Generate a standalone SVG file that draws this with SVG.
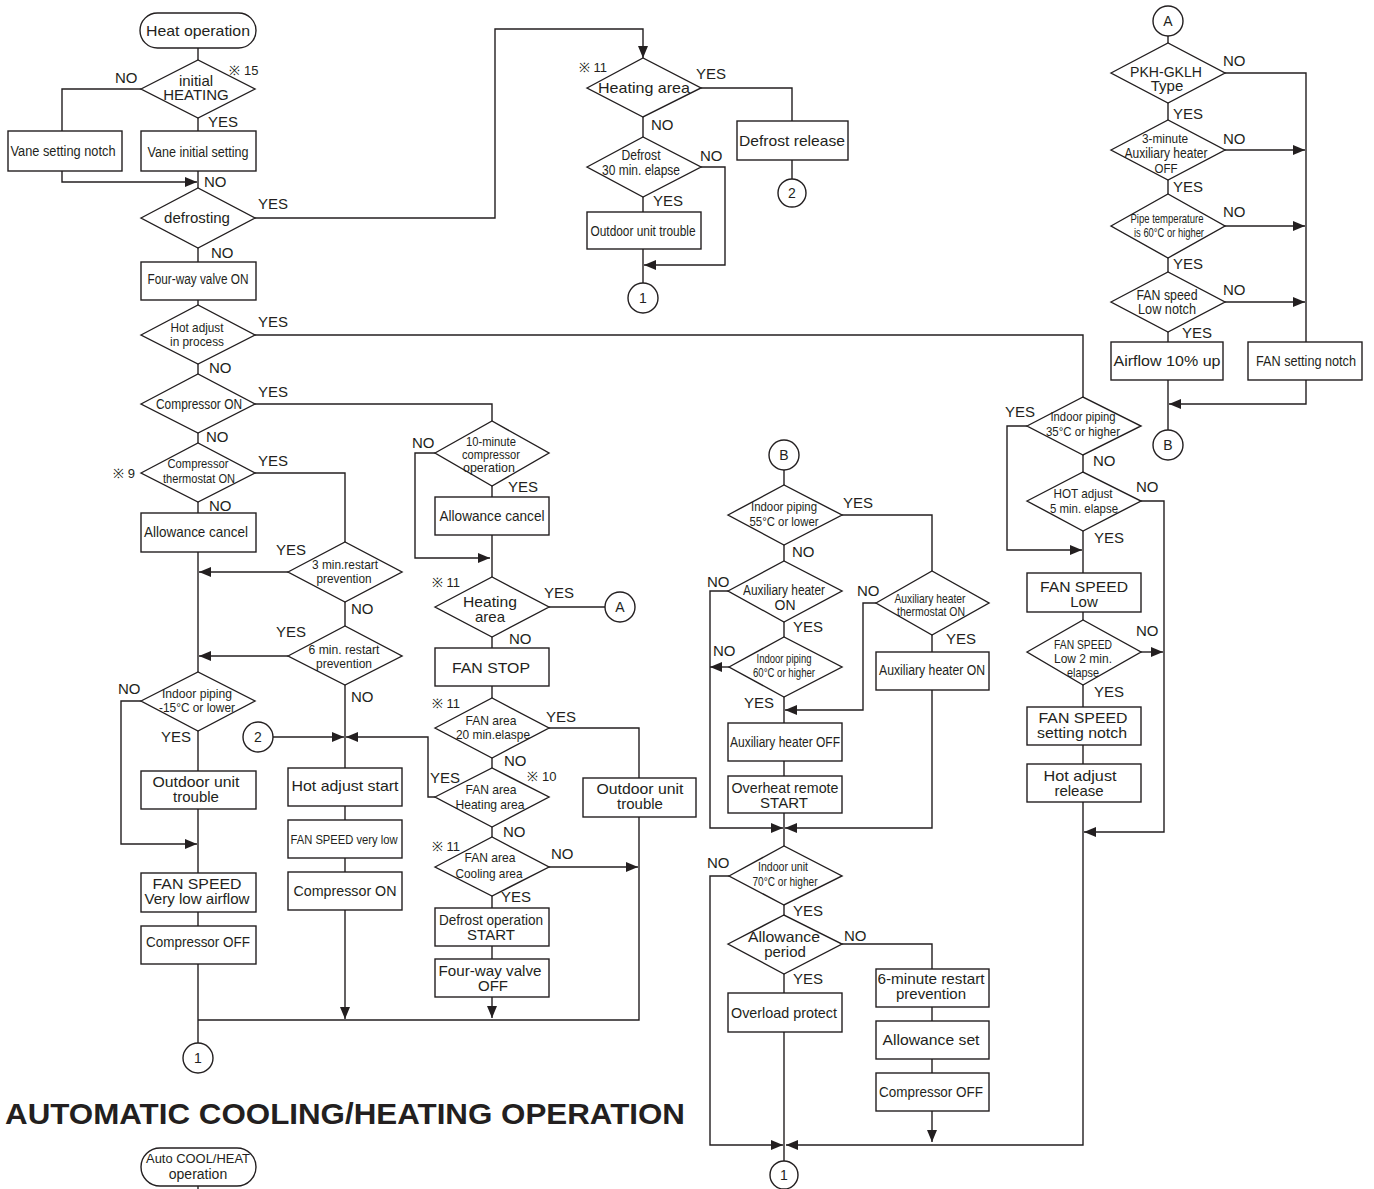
<svg xmlns="http://www.w3.org/2000/svg" width="1374" height="1189" viewBox="0 0 1374 1189">
<style>
.s{fill:#fff;stroke:#231f20;stroke-width:1.4}
.l{fill:none;stroke:#231f20;stroke-width:1.4}
text{font-family:"Liberation Sans",Arial,sans-serif;fill:#231f20;text-anchor:middle}
.t15{font-size:15px}
.t14{font-size:14px}
.t13{font-size:13px}
.lb{font-size:15px;text-anchor:start}
.ttl{font-size:30px;font-weight:bold;text-anchor:start}
</style>
<defs>
<marker id="ah" viewBox="0 0 12 10" refX="12" refY="5" markerWidth="12" markerHeight="10" orient="auto" markerUnits="userSpaceOnUse"><path d="M0,0 L12,5 L0,10 z" fill="#231f20"/></marker>
</defs>
<rect width="1374" height="1189" fill="#fff"/>

<g id="connectors">
<path class="l" d="M198,48V60"/>
<path class="l" d="M198,118V131"/>
<path class="l" d="M141,89H62V131"/>
<path class="l" d="M62,171V182H197" marker-end="url(#ah)"/>
<path class="l" d="M198,171V188"/>
<path class="l" d="M198,248V262"/>
<path class="l" d="M198,300V305"/>
<path class="l" d="M255,218H495V29H643V58" marker-end="url(#ah)"/>
<path class="l" d="M643,117V137"/>
<path class="l" d="M643,197V212"/>
<path class="l" d="M643,249V283"/>
<path class="l" d="M701,167H725V265H644" marker-end="url(#ah)"/>
<path class="l" d="M701,88H792V121"/>
<path class="l" d="M792,160V179"/>
<path class="l" d="M198,364V374"/>
<path class="l" d="M198,433V443"/>
<path class="l" d="M198,502V513"/>
<path class="l" d="M255,335H1083V397"/>
<path class="l" d="M255,404H492V421"/>
<path class="l" d="M255,473H345V542"/>
<path class="l" d="M288,572H199" marker-end="url(#ah)"/>
<path class="l" d="M345,602V626"/>
<path class="l" d="M288,656H199" marker-end="url(#ah)"/>
<path class="l" d="M198,552V672"/>
<path class="l" d="M198,731V771"/>
<path class="l" d="M141,701H121V844H197" marker-end="url(#ah)"/>
<path class="l" d="M198,809V873"/>
<path class="l" d="M198,912V926"/>
<path class="l" d="M198,964V1043"/>
<path class="l" d="M198,1020H639V817"/>
<path class="l" d="M345,685V768"/>
<path class="l" d="M273,737H344" marker-end="url(#ah)"/>
<path class="l" d="M435,797H428V737H346" marker-end="url(#ah)"/>
<path class="l" d="M345,806V820"/>
<path class="l" d="M345,858V872"/>
<path class="l" d="M345,910V1019" marker-end="url(#ah)"/>
<path class="l" d="M435,453H415V558H490" marker-end="url(#ah)"/>
<path class="l" d="M492,486V497"/>
<path class="l" d="M492,535V577"/>
<path class="l" d="M549,607H605"/>
<path class="l" d="M492,637V648"/>
<path class="l" d="M492,686V698"/>
<path class="l" d="M549,728H639V778"/>
<path class="l" d="M492,758V768"/>
<path class="l" d="M492,827V837"/>
<path class="l" d="M549,867H638" marker-end="url(#ah)"/>
<path class="l" d="M492,896V908"/>
<path class="l" d="M492,946V959"/>
<path class="l" d="M492,997V1018" marker-end="url(#ah)"/>
<path class="l" d="M1168,36V43"/>
<path class="l" d="M1168,103V120"/>
<path class="l" d="M1168,180V194"/>
<path class="l" d="M1168,258V272"/>
<path class="l" d="M1168,332V342"/>
<path class="l" d="M1168,380V430"/>
<path class="l" d="M1225,73H1306V342"/>
<path class="l" d="M1225,150H1305" marker-end="url(#ah)"/>
<path class="l" d="M1225,226H1305" marker-end="url(#ah)"/>
<path class="l" d="M1225,302H1305" marker-end="url(#ah)"/>
<path class="l" d="M1306,380V404H1169" marker-end="url(#ah)"/>
<path class="l" d="M1083,455V472"/>
<path class="l" d="M1027,426H1007V550H1082" marker-end="url(#ah)"/>
<path class="l" d="M1083,531V573"/>
<path class="l" d="M1141,501H1164V832H1084" marker-end="url(#ah)"/>
<path class="l" d="M1083,612V620"/>
<path class="l" d="M1141,652H1163" marker-end="url(#ah)"/>
<path class="l" d="M1083,685V707"/>
<path class="l" d="M1083,745V764"/>
<path class="l" d="M1083,802V1145H786" marker-end="url(#ah)"/>
<path class="l" d="M784,470V485"/>
<path class="l" d="M842,515H932V571"/>
<path class="l" d="M784,545V561"/>
<path class="l" d="M784,622V637"/>
<path class="l" d="M728,591H710V828H783" marker-end="url(#ah)"/>
<path class="l" d="M729,667H710" marker-end="url(#ah)"/>
<path class="l" d="M784,697V723"/>
<path class="l" d="M876,603H863V710H785" marker-end="url(#ah)"/>
<path class="l" d="M932,635V652"/>
<path class="l" d="M932,690V828H785" marker-end="url(#ah)"/>
<path class="l" d="M784,761V776"/>
<path class="l" d="M784,813V846"/>
<path class="l" d="M784,905V915"/>
<path class="l" d="M842,944H932V969"/>
<path class="l" d="M784,974V993"/>
<path class="l" d="M784,1032V1161"/>
<path class="l" d="M729,876H710V1145H783" marker-end="url(#ah)"/>
<path class="l" d="M932,1007V1021"/>
<path class="l" d="M932,1059V1073"/>
<path class="l" d="M932,1111V1142" marker-end="url(#ah)"/>
<path class="l" d="M198,1186V1189"/>
</g>

<g id="heat-operation"><rect class="s" x="140" y="13" width="116" height="35" rx="17.5"/><text class="t15" x="198" y="36" textLength="104" lengthAdjust="spacingAndGlyphs">Heat operation</text></g>
<g id="initial-heating"><polygon class="s" points="141,89 198,60 255,89 198,118"/><text class="t15" x="196" y="86">initial</text><text class="t15" x="196" y="100">HEATING</text></g>
<g id="vane-setting-notch"><rect class="s" x="8" y="131" width="114" height="40"/><text class="t14" x="63" y="156" textLength="105" lengthAdjust="spacingAndGlyphs">Vane setting notch</text></g>
<g id="vane-initial-setting"><rect class="s" x="141" y="131" width="115" height="40"/><text class="t14" x="198" y="157" textLength="101" lengthAdjust="spacingAndGlyphs">Vane initial setting</text></g>
<g id="defrosting"><polygon class="s" points="141,218 198,188 255,218 198,248"/><text class="t15" x="197" y="223">defrosting</text></g>
<g id="four-way-valve-on"><rect class="s" x="141" y="262" width="115" height="38"/><text class="t14" x="198" y="284" textLength="101" lengthAdjust="spacingAndGlyphs">Four-way valve ON</text></g>
<g id="hot-adjust-in-process"><polygon class="s" points="141,335 198,305 255,335 198,364"/><text class="t13" x="197" y="332" textLength="53" lengthAdjust="spacingAndGlyphs">Hot adjust</text><text class="t13" x="197" y="346" textLength="54" lengthAdjust="spacingAndGlyphs">in process</text></g>
<g id="compressor-on-q"><polygon class="s" points="141,404 198,374 255,404 198,433"/><text class="t14" x="199" y="409" textLength="86" lengthAdjust="spacingAndGlyphs">Compressor ON</text></g>
<g id="compressor-thermostat-on"><polygon class="s" points="141,473 198,443 255,473 198,502"/><text class="t13" x="198" y="468" textLength="61" lengthAdjust="spacingAndGlyphs">Compressor</text><text class="t13" x="199" y="483" textLength="72" lengthAdjust="spacingAndGlyphs">thermostat ON</text></g>
<g id="allowance-cancel-1"><rect class="s" x="141" y="513" width="115" height="39"/><text class="t15" x="196" y="537" textLength="104" lengthAdjust="spacingAndGlyphs">Allowance cancel</text></g>
<g id="three-min-restart"><polygon class="s" points="288,572 345,542 402,572 345,602"/><text class="t13" x="345" y="569" textLength="66" lengthAdjust="spacingAndGlyphs">3 min.restart</text><text class="t13" x="344" y="583" textLength="55" lengthAdjust="spacingAndGlyphs">prevention</text></g>
<g id="six-min-restart"><polygon class="s" points="288,656 345,626 402,656 345,685"/><text class="t13" x="344" y="654" textLength="71" lengthAdjust="spacingAndGlyphs">6 min. restart</text><text class="t13" x="344" y="668" textLength="56" lengthAdjust="spacingAndGlyphs">prevention</text></g>
<g id="indoor-piping-minus15"><polygon class="s" points="141,701 198,672 255,701 198,731"/><text class="t13" x="197" y="698" textLength="70" lengthAdjust="spacingAndGlyphs">Indoor piping</text><text class="t13" x="197" y="712" textLength="76" lengthAdjust="spacingAndGlyphs">-15°C or lower</text></g>
<g id="conn-2-left"><circle class="s" cx="258" cy="737" r="15"/><text class="t14" x="258" y="742">2</text></g>
<g id="outdoor-unit-trouble-1"><rect class="s" x="141" y="771" width="115" height="38"/><text class="t15" x="196" y="787" textLength="87" lengthAdjust="spacingAndGlyphs">Outdoor unit</text><text class="t15" x="196" y="802">trouble</text></g>
<g id="fan-speed-very-low-airflow"><rect class="s" x="141" y="873" width="115" height="39"/><text class="t15" x="197" y="889" textLength="89" lengthAdjust="spacingAndGlyphs">FAN SPEED</text><text class="t15" x="197" y="904" textLength="105" lengthAdjust="spacingAndGlyphs">Very low airflow</text></g>
<g id="compressor-off-1"><rect class="s" x="141" y="926" width="115" height="38"/><text class="t14" x="198" y="947" textLength="104" lengthAdjust="spacingAndGlyphs">Compressor OFF</text></g>
<g id="conn-1-left"><circle class="s" cx="198" cy="1058" r="15"/><text class="t14" x="198" y="1063">1</text></g>
<g id="hot-adjust-start"><rect class="s" x="288" y="768" width="114" height="38"/><text class="t15" x="345" y="791" textLength="107" lengthAdjust="spacingAndGlyphs">Hot adjust start</text></g>
<g id="fan-speed-very-low"><rect class="s" x="288" y="820" width="114" height="38"/><text class="t13" x="344" y="844" textLength="107" lengthAdjust="spacingAndGlyphs">FAN SPEED very low</text></g>
<g id="compressor-on-2"><rect class="s" x="288" y="872" width="114" height="38"/><text class="t15" x="345" y="896" textLength="103" lengthAdjust="spacingAndGlyphs">Compressor ON</text></g>

<g id="ten-minute-compressor"><polygon class="s" points="435,453 492,421 549,453 492,486"/><text class="t13" x="491" y="446" textLength="50" lengthAdjust="spacingAndGlyphs">10-minute</text><text class="t13" x="491" y="459" textLength="58" lengthAdjust="spacingAndGlyphs">compressor</text><text class="t13" x="489" y="472" textLength="52" lengthAdjust="spacingAndGlyphs">operation</text></g>
<g id="allowance-cancel-2"><rect class="s" x="435" y="497" width="114" height="38"/><text class="t15" x="492" y="521" textLength="105" lengthAdjust="spacingAndGlyphs">Allowance cancel</text></g>
<g id="heating-area-2"><polygon class="s" points="435,607 492,577 549,607 492,637"/><text class="t15" x="490" y="607" textLength="54" lengthAdjust="spacingAndGlyphs">Heating</text><text class="t15" x="490" y="622">area</text></g>
<g id="conn-a-mid"><circle class="s" cx="620" cy="607" r="15"/><text class="t14" x="620" y="612">A</text></g>
<g id="fan-stop"><rect class="s" x="435" y="648" width="114" height="38"/><text class="t15" x="491" y="673" textLength="78" lengthAdjust="spacingAndGlyphs">FAN STOP</text></g>
<g id="fan-area-20min"><polygon class="s" points="435,728 492,698 549,728 492,758"/><text class="t13" x="491" y="725" textLength="51" lengthAdjust="spacingAndGlyphs">FAN area</text><text class="t13" x="493" y="739" textLength="74" lengthAdjust="spacingAndGlyphs">20 min.elaspe</text></g>
<g id="fan-area-heating"><polygon class="s" points="435,797 492,768 549,797 492,827"/><text class="t13" x="491" y="794" textLength="51" lengthAdjust="spacingAndGlyphs">FAN area</text><text class="t13" x="490" y="809" textLength="69" lengthAdjust="spacingAndGlyphs">Heating area</text></g>
<g id="fan-area-cooling"><polygon class="s" points="435,867 492,837 549,867 492,896"/><text class="t13" x="490" y="862" textLength="51" lengthAdjust="spacingAndGlyphs">FAN area</text><text class="t13" x="489" y="878" textLength="67" lengthAdjust="spacingAndGlyphs">Cooling area</text></g>
<g id="defrost-operation-start"><rect class="s" x="435" y="908" width="114" height="38"/><text class="t15" x="491" y="925" textLength="104" lengthAdjust="spacingAndGlyphs">Defrost operation</text><text class="t15" x="491" y="940">START</text></g>
<g id="four-way-valve-off"><rect class="s" x="435" y="959" width="114" height="38"/><text class="t15" x="490" y="976" textLength="103" lengthAdjust="spacingAndGlyphs">Four-way valve</text><text class="t15" x="493" y="991">OFF</text></g>
<g id="outdoor-unit-trouble-2"><rect class="s" x="583" y="778" width="113" height="39"/><text class="t15" x="640" y="794" textLength="87" lengthAdjust="spacingAndGlyphs">Outdoor unit</text><text class="t15" x="640" y="809">trouble</text></g>

<g id="heating-area-1"><polygon class="s" points="587,88 643,58 701,88 643,117"/><text class="t15" x="644" y="93" textLength="92" lengthAdjust="spacingAndGlyphs">Heating area</text></g>
<g id="defrost-30min"><polygon class="s" points="587,167 643,137 701,167 643,197"/><text class="t14" x="641" y="160" textLength="39" lengthAdjust="spacingAndGlyphs">Defrost</text><text class="t14" x="641" y="175" textLength="78" lengthAdjust="spacingAndGlyphs">30 min. elapse</text></g>
<g id="outdoor-unit-trouble-3"><rect class="s" x="587" y="212" width="114" height="37"/><text class="t14" x="643" y="236" textLength="105" lengthAdjust="spacingAndGlyphs">Outdoor unit trouble</text></g>
<g id="conn-1-top"><circle class="s" cx="643" cy="298" r="15"/><text class="t14" x="643" y="303">1</text></g>
<g id="defrost-release"><rect class="s" x="737" y="121" width="111" height="39"/><text class="t15" x="792" y="146" textLength="106" lengthAdjust="spacingAndGlyphs">Defrost release</text></g>
<g id="conn-2-top"><circle class="s" cx="792" cy="193" r="14"/><text class="t14" x="792" y="198">2</text></g>

<g id="conn-a-top"><circle class="s" cx="1168" cy="21" r="15"/><text class="t14" x="1168" y="26">A</text></g>
<g id="pkh-gklh-type"><polygon class="s" points="1111,73 1168,43 1225,73 1168,103"/><text class="t15" x="1166" y="77" textLength="72" lengthAdjust="spacingAndGlyphs">PKH-GKLH</text><text class="t15" x="1167" y="91">Type</text></g>
<g id="three-minute-aux-off"><polygon class="s" points="1111,150 1168,120 1225,150 1168,180"/><text class="t13" x="1165" y="143" textLength="46" lengthAdjust="spacingAndGlyphs">3-minute</text><text class="t14" x="1166" y="158" textLength="83" lengthAdjust="spacingAndGlyphs">Auxiliary heater</text><text class="t13" x="1166" y="173" textLength="23" lengthAdjust="spacingAndGlyphs">OFF</text></g>
<g id="pipe-temperature-60"><polygon class="s" points="1111,226 1168,194 1225,226 1168,258"/><text class="t13" x="1167" y="223" textLength="73" lengthAdjust="spacingAndGlyphs">Pipe temperature</text><text class="t13" x="1169" y="237" textLength="70" lengthAdjust="spacingAndGlyphs">is 60°C or higher</text></g>
<g id="fan-speed-low-notch"><polygon class="s" points="1111,302 1168,272 1225,302 1168,332"/><text class="t14" x="1167" y="300" textLength="61" lengthAdjust="spacingAndGlyphs">FAN speed</text><text class="t14" x="1167" y="314" textLength="58" lengthAdjust="spacingAndGlyphs">Low notch</text></g>
<g id="airflow-10-up"><rect class="s" x="1111" y="342" width="112" height="38"/><text class="t15" x="1167" y="366" textLength="107" lengthAdjust="spacingAndGlyphs">Airflow 10% up</text></g>
<g id="fan-setting-notch"><rect class="s" x="1248" y="342" width="114" height="38"/><text class="t14" x="1306" y="366" textLength="100" lengthAdjust="spacingAndGlyphs">FAN setting notch</text></g>
<g id="conn-b-top"><circle class="s" cx="1168" cy="445" r="15"/><text class="t14" x="1168" y="450">B</text></g>

<g id="indoor-piping-35"><polygon class="s" points="1027,426 1083,397 1141,426 1083,455"/><text class="t13" x="1083" y="421" textLength="65" lengthAdjust="spacingAndGlyphs">Indoor piping</text><text class="t13" x="1083" y="436" textLength="74" lengthAdjust="spacingAndGlyphs">35°C or higher</text></g>
<g id="hot-adjust-5min"><polygon class="s" points="1027,501 1083,472 1141,501 1083,531"/><text class="t13" x="1083" y="498" textLength="59" lengthAdjust="spacingAndGlyphs">HOT adjust</text><text class="t13" x="1084" y="513" textLength="68" lengthAdjust="spacingAndGlyphs">5 min. elapse</text></g>
<g id="fan-speed-low"><rect class="s" x="1027" y="573" width="114" height="39"/><text class="t15" x="1084" y="592" textLength="88" lengthAdjust="spacingAndGlyphs">FAN SPEED</text><text class="t15" x="1084" y="607">Low</text></g>
<g id="fan-speed-low-2min"><polygon class="s" points="1027,652 1083,620 1141,652 1083,685"/><text class="t13" x="1083" y="649" textLength="58" lengthAdjust="spacingAndGlyphs">FAN SPEED</text><text class="t13" x="1083" y="663" textLength="58" lengthAdjust="spacingAndGlyphs">Low 2 min.</text><text class="t13" x="1083" y="677" textLength="32" lengthAdjust="spacingAndGlyphs">elapse</text></g>
<g id="fan-speed-setting-notch"><rect class="s" x="1027" y="707" width="114" height="38"/><text class="t15" x="1083" y="723" textLength="89" lengthAdjust="spacingAndGlyphs">FAN SPEED</text><text class="t15" x="1082" y="738" textLength="90" lengthAdjust="spacingAndGlyphs">setting notch</text></g>
<g id="hot-adjust-release"><rect class="s" x="1027" y="764" width="114" height="38"/><text class="t15" x="1080" y="781" textLength="73" lengthAdjust="spacingAndGlyphs">Hot adjust</text><text class="t15" x="1079" y="796">release</text></g>

<g id="conn-b-mid"><circle class="s" cx="784" cy="455" r="15"/><text class="t14" x="784" y="460">B</text></g>
<g id="indoor-piping-55"><polygon class="s" points="728,515 784,485 842,515 784,545"/><text class="t13" x="784" y="511" textLength="66" lengthAdjust="spacingAndGlyphs">Indoor piping</text><text class="t13" x="784" y="526" textLength="69" lengthAdjust="spacingAndGlyphs">55°C or lower</text></g>
<g id="auxiliary-heater-on-q"><polygon class="s" points="728,591 784,561 842,591 784,622"/><text class="t14" x="784" y="595" textLength="82" lengthAdjust="spacingAndGlyphs">Auxiliary heater</text><text class="t14" x="785" y="610">ON</text></g>
<g id="indoor-piping-60"><polygon class="s" points="729,667 784,637 842,667 784,697"/><text class="t13" x="784" y="663" textLength="55" lengthAdjust="spacingAndGlyphs">Indoor piping</text><text class="t13" x="784" y="677" textLength="62" lengthAdjust="spacingAndGlyphs">60°C or higher</text></g>
<g id="auxiliary-heater-thermostat-on"><polygon class="s" points="876,603 932,571 989,603 932,635"/><text class="t13" x="930" y="603" textLength="71" lengthAdjust="spacingAndGlyphs">Auxiliary heater</text><text class="t13" x="931" y="616" textLength="68" lengthAdjust="spacingAndGlyphs">thermostat ON</text></g>
<g id="auxiliary-heater-on"><rect class="s" x="876" y="652" width="113" height="38"/><text class="t14" x="932" y="675" textLength="106" lengthAdjust="spacingAndGlyphs">Auxiliary heater ON</text></g>
<g id="auxiliary-heater-off"><rect class="s" x="728" y="723" width="114" height="38"/><text class="t14" x="785" y="747" textLength="110" lengthAdjust="spacingAndGlyphs">Auxiliary heater OFF</text></g>
<g id="overheat-remote-start"><rect class="s" x="728" y="776" width="114" height="37"/><text class="t15" x="785" y="793" textLength="107" lengthAdjust="spacingAndGlyphs">Overheat remote</text><text class="t15" x="784" y="808">START</text></g>
<g id="indoor-unit-70"><polygon class="s" points="729,876 784,846 842,876 784,905"/><text class="t13" x="783" y="871" textLength="50" lengthAdjust="spacingAndGlyphs">Indoor unit</text><text class="t13" x="785" y="886" textLength="65" lengthAdjust="spacingAndGlyphs">70°C or higher</text></g>
<g id="allowance-period"><polygon class="s" points="728,944 784,915 842,944 784,974"/><text class="t15" x="784" y="942" textLength="72" lengthAdjust="spacingAndGlyphs">Allowance</text><text class="t15" x="785" y="957">period</text></g>
<g id="overload-protect"><rect class="s" x="728" y="993" width="114" height="39"/><text class="t15" x="784" y="1018" textLength="106" lengthAdjust="spacingAndGlyphs">Overload protect</text></g>
<g id="six-minute-restart-prevention"><rect class="s" x="876" y="969" width="113" height="38"/><text class="t15" x="931" y="984" textLength="107" lengthAdjust="spacingAndGlyphs">6-minute restart</text><text class="t15" x="931" y="999">prevention</text></g>
<g id="allowance-set"><rect class="s" x="876" y="1021" width="113" height="38"/><text class="t15" x="931" y="1045" textLength="97" lengthAdjust="spacingAndGlyphs">Allowance set</text></g>
<g id="compressor-off-2"><rect class="s" x="876" y="1073" width="113" height="38"/><text class="t14" x="931" y="1097" textLength="104" lengthAdjust="spacingAndGlyphs">Compressor OFF</text></g>
<g id="conn-1-right"><circle class="s" cx="784" cy="1175" r="14"/><text class="t14" x="784" y="1180">1</text></g>

<g id="auto-cool-heat-operation"><rect class="s" x="141" y="1148" width="115" height="38" rx="19"/><text class="t13" x="198" y="1163" textLength="104" lengthAdjust="spacingAndGlyphs">Auto COOL/HEAT</text><text class="t14" x="198" y="1179">operation</text></g>

<g id="labels">
<text class="lb" x="115" y="83">NO</text>
<text class="t13" x="244" y="75">※ 15</text>
<text class="lb" x="208" y="127">YES</text>
<text class="lb" x="204" y="187">NO</text>
<text class="lb" x="258" y="209">YES</text>
<text class="lb" x="211" y="258">NO</text>
<text class="t13" x="593" y="72">※ 11</text>
<text class="lb" x="696" y="79">YES</text>
<text class="lb" x="651" y="130">NO</text>
<text class="lb" x="700" y="161">NO</text>
<text class="lb" x="653" y="206">YES</text>
<text class="lb" x="1223" y="66">NO</text>
<text class="lb" x="1173" y="119">YES</text>
<text class="lb" x="1223" y="144">NO</text>
<text class="lb" x="1173" y="192">YES</text>
<text class="lb" x="1223" y="217">NO</text>
<text class="lb" x="1173" y="269">YES</text>
<text class="lb" x="1223" y="295">NO</text>
<text class="lb" x="1182" y="338">YES</text>
<text class="lb" x="258" y="327">YES</text>
<text class="lb" x="209" y="373">NO</text>
<text class="lb" x="258" y="397">YES</text>
<text class="lb" x="206" y="442">NO</text>
<text class="t13" x="124" y="478">※ 9</text>
<text class="lb" x="258" y="466">YES</text>
<text class="lb" x="209" y="511">NO</text>
<text class="lb" x="276" y="555">YES</text>
<text class="lb" x="351" y="614">NO</text>
<text class="lb" x="276" y="637">YES</text>
<text class="lb" x="351" y="702">NO</text>
<text class="lb" x="118" y="694">NO</text>
<text class="lb" x="161" y="742">YES</text>
<text class="lb" x="412" y="448">NO</text>
<text class="lb" x="508" y="492">YES</text>
<text class="t13" x="446" y="587">※ 11</text>
<text class="lb" x="544" y="598">YES</text>
<text class="lb" x="509" y="644">NO</text>
<text class="t13" x="446" y="708">※ 11</text>
<text class="lb" x="546" y="722">YES</text>
<text class="lb" x="504" y="766">NO</text>
<text class="lb" x="430" y="783">YES</text>
<text class="t13" x="542" y="781">※ 10</text>
<text class="lb" x="503" y="837">NO</text>
<text class="t13" x="446" y="851">※ 11</text>
<text class="lb" x="551" y="859">NO</text>
<text class="lb" x="501" y="902">YES</text>
<text class="lb" x="1005" y="417">YES</text>
<text class="lb" x="1093" y="466">NO</text>
<text class="lb" x="1136" y="492">NO</text>
<text class="lb" x="1094" y="543">YES</text>
<text class="lb" x="1136" y="636">NO</text>
<text class="lb" x="1094" y="697">YES</text>
<text class="lb" x="843" y="508">YES</text>
<text class="lb" x="792" y="557">NO</text>
<text class="lb" x="707" y="587">NO</text>
<text class="lb" x="793" y="632">YES</text>
<text class="lb" x="713" y="656">NO</text>
<text class="lb" x="744" y="708">YES</text>
<text class="lb" x="857" y="596">NO</text>
<text class="lb" x="946" y="644">YES</text>
<text class="lb" x="707" y="868">NO</text>
<text class="lb" x="793" y="916">YES</text>
<text class="lb" x="844" y="941">NO</text>
<text class="lb" x="793" y="984">YES</text>
</g>

<text class="ttl" x="5" y="1124" textLength="680" lengthAdjust="spacingAndGlyphs">AUTOMATIC COOLING/HEATING OPERATION</text>
</svg>
